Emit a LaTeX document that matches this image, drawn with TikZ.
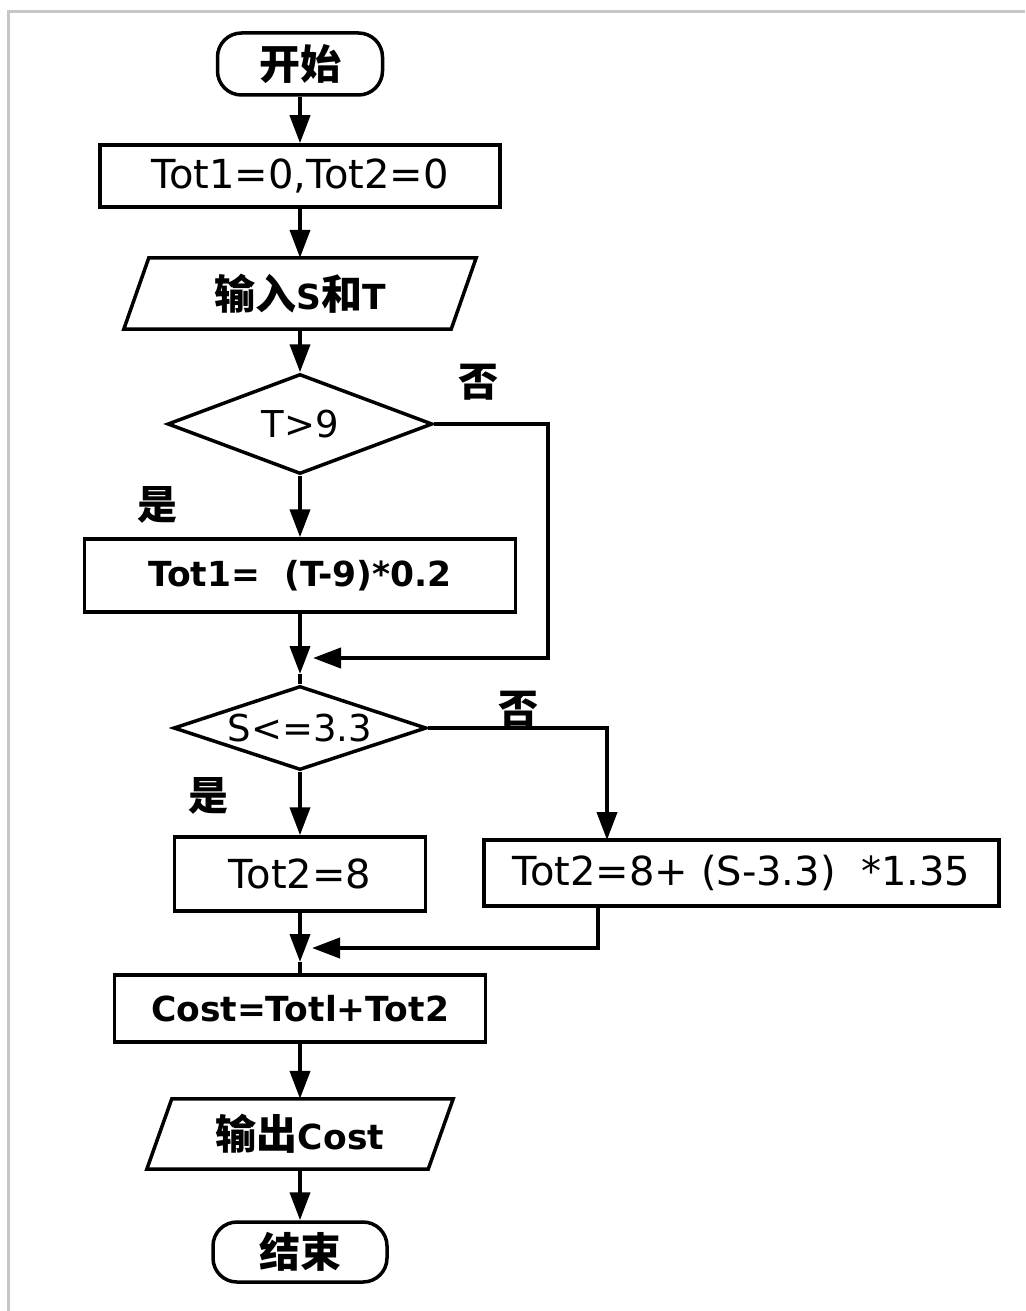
\documentclass[tikz,border=0pt]{standalone}
\usepackage{fontspec}
\setmainfont{DejaVu Sans}
\newfontfamily\cjk{Noto Sans CJK SC}
\usetikzlibrary{arrows.meta,calc,shapes.geometric}
\begin{document}
\begin{tikzpicture}[x=1pt,y=-1pt,
  txt/.style={font=\fontsize{40}{42}\selectfont},
  btxt/.style={font=\fontsize{34.5}{42}\selectfont\bfseries},
  dtxt/.style={font=\fontsize{37}{40}\selectfont},
  proc/.style={draw, line width=3.5pt, inner sep=0pt, txt},
  term/.style={draw, line width=3.5pt, rounded corners=24pt, inner sep=0pt, font=\cjk\fontsize{41}{42}\selectfont\bfseries},
  dia/.style={draw, shape=diamond, line width=3.5pt, inner sep=0pt, dtxt},
  io/.style={inner sep=0pt, btxt},
  iopath/.style={line width=3.5pt},
  arr/.style={line width=4pt, -{Triangle[length=28pt,width=20pt]}},
  conn/.style={line width=4pt},
  lab/.style={font=\cjk\fontsize{40}{40}\selectfont\bfseries, inner sep=0pt},
  frame/.style={draw=black!22, line width=3pt}
]
\useasboundingbox (0,0) rectangle (1025,1311);
% frame of the screenshot
\draw[frame] (8.5,1311) -- (8.5,11.5) -- (1025,11.5);

% nodes
\node[term, minimum width=165pt, minimum height=62pt] (start) at (300,64) {开始};
\node[proc, minimum width=400pt, minimum height=62pt] (init) at (300,176) {Tot1=0,Tot2=0};
\node[io, minimum width=352pt, minimum height=71pt] (inp) at (300,293.5) {{\cjk\fontsize{41}{42}\selectfont 输入}S{\cjk\fontsize{41}{42}\selectfont 和}T};
\draw[iopath] ($(inp.north west)+(25,0)$) -- (inp.north east) -- ($(inp.south east)+(-25,0)$) -- (inp.south west) -- cycle;
\node[dia, minimum width=265pt, minimum height=100pt] (d1) at (300,424) {\makebox[0pt]{T>9}};
\node[proc, btxt, minimum width=431pt, minimum height=73pt] (t1) at (300,575.5) {Tot1=\ \ (T-9)*0.2};
\coordinate (j1) at (313,658);
\coordinate (j1v) at (300,674);
\coordinate (c1) at (548,658);
\node[dia, minimum width=253pt, minimum height=84pt] (d2) at (300,728) {\makebox[0pt]{S<=3.3}};
\node[proc, minimum width=251pt, minimum height=74pt] (t2a) at (300,874) {Tot2=8};
\node[proc, minimum width=515pt, minimum height=66pt] (t2b) at (741.5,873) {Tot2=8+\ (S-3.3)\ \ *1.35};
\coordinate (c2) at (607,840);
\coordinate (c3) at (598,906);
\coordinate (j2) at (312,948);
\coordinate (j2v) at (300,962);
\node[proc, btxt, minimum width=371pt, minimum height=67pt] (cost) at (300,1008.5) {Cost=Totl+Tot2};
\node[io, minimum width=306pt, minimum height=70pt] (out) at (300,1134) {{\cjk\fontsize{41}{42}\selectfont 输出}Cost};
\draw[iopath] ($(out.north west)+(25,0)$) -- (out.north east) -- ($(out.south east)+(-25,0)$) -- (out.south west) -- cycle;
\node[term, minimum width=174pt, minimum height=60pt] (stop) at (300,1252) {结束};

% labels
\node[lab] (no1) at (478,382) {否};
\node[lab] (yes1) at (157,505) {是};
\node[lab] (no2) at (518,709) {否};
\node[lab] (yes2) at (208,796) {是};

% connectors
\draw[arr] (start.south) -- (init.north);
\draw[arr] (init.south) -- (inp.north);
\draw[arr] (inp.south) -- (d1.north);
\draw[arr] (d1.south) -- (t1.north);
\draw[arr] (d1.east) -| (c1) -- (j1);
\draw[arr] (t1.south) -- (j1v);
\draw[conn] (j1v) -- (d2.north);
\draw[arr] (d2.south) -- (t2a.north);
\draw[arr] (d2.east) -| (c2);
\draw[arr] (c3) |- (j2);
\draw[arr] (t2a.south) -- (j2v);
\draw[conn] (j2v) -- (cost.north);
\draw[arr] (cost.south) -- (out.north);
\draw[arr] (out.south) -- (stop.north);
\end{tikzpicture}
\end{document}
